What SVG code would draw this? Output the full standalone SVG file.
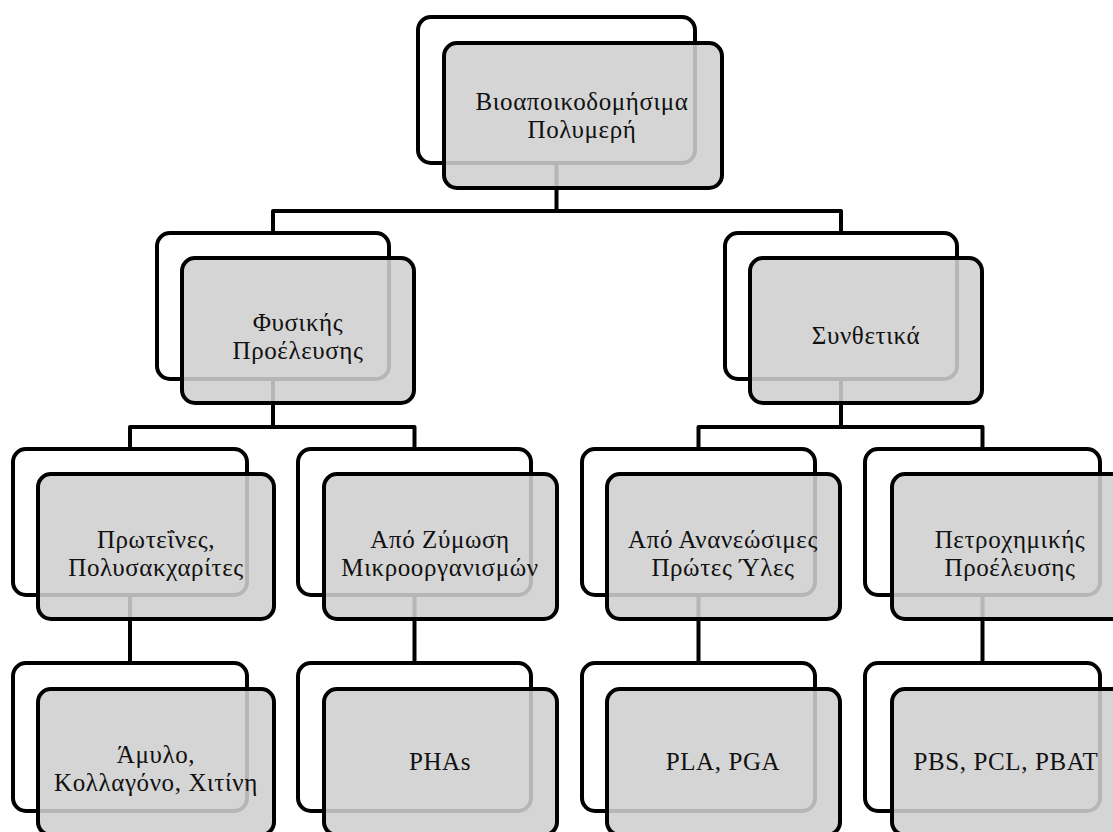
<svg xmlns="http://www.w3.org/2000/svg" width="1113" height="832" viewBox="0 0 1113 832">
<style>
.back{fill:#ffffff;stroke:#000000;stroke-width:4}
.front{fill:#cfcfcf;fill-opacity:0.88;stroke:#000000;stroke-width:4}
.conn{fill:none;stroke:#000000;stroke-width:4;stroke-linejoin:round}
text{font-family:"Liberation Serif","Times New Roman",serif;font-size:25px;letter-spacing:0.6px;fill:#111111;text-anchor:middle}
</style>
<rect width="1113" height="832" fill="#ffffff"/>
<g id="connectors">
<path class="conn" d="M556.5 163 V211 M273 233 V211 H841 V233"/>
<path class="conn" d="M273 379 V427 M130 449 V427 H414.5 V449"/>
<path class="conn" d="M841 379 V427 M698.5 449 V427 H982.5 V449"/>
<path class="conn" d="M130 595 V663 M414.5 595 V663 M698.5 595 V663 M982.5 595 V663"/>
</g>
<g id="n-root">
<rect class="back" x="418" y="17" width="277" height="146" rx="13"/>
<rect class="front" x="444" y="43" width="278" height="145" rx="13"/>
<text x="582" y="110">Βιοαποικοδομήσιμα</text>
<text x="582" y="138">Πολυμερή</text>
</g>
<g id="n-natural">
<rect class="back" x="157" y="233" width="232" height="146" rx="13"/>
<rect class="front" x="182" y="258" width="232" height="145" rx="13"/>
<text x="298" y="331">Φυσικής</text>
<text x="298" y="359">Προέλευσης</text>
</g>
<g id="n-synthetic">
<rect class="back" x="725" y="233" width="232" height="146" rx="13"/>
<rect class="front" x="750" y="258" width="232" height="145" rx="13"/>
<text x="866" y="344">Συνθετικά</text>
</g>
<g id="n-proteins">
<rect class="back" x="13" y="449" width="234" height="146" rx="13"/>
<rect class="front" x="38" y="474" width="236" height="145" rx="13"/>
<text x="156" y="548">Πρωτεΐνες,</text>
<text x="156" y="576">Πολυσακχαρίτες</text>
</g>
<g id="n-ferment">
<rect class="back" x="298" y="449" width="233" height="146" rx="13"/>
<rect class="front" x="324" y="474" width="233" height="145" rx="13"/>
<text x="440" y="548">Από Ζύμωση</text>
<text x="440" y="576">Μικροοργανισμών</text>
</g>
<g id="n-renewable">
<rect class="back" x="582" y="449" width="233" height="146" rx="13"/>
<rect class="front" x="607" y="474" width="233" height="145" rx="13"/>
<text x="723" y="548">Από Ανανεώσιμες</text>
<text x="723" y="576">Πρώτες Ύλες</text>
</g>
<g id="n-petro">
<rect class="back" x="865" y="449" width="235" height="146" rx="13"/>
<rect class="front" x="892" y="474" width="236" height="145" rx="13"/>
<text x="1010" y="548">Πετροχημικής</text>
<text x="1010" y="576">Προέλευσης</text>
</g>
<g id="n-starch">
<rect class="back" x="13" y="663" width="234" height="148" rx="13"/>
<rect class="front" x="38" y="689" width="236" height="146" rx="13"/>
<text x="156" y="763">Άμυλο,</text>
<text x="156" y="791">Κολλαγόνο, Χιτίνη</text>
</g>
<g id="n-pha">
<rect class="back" x="298" y="663" width="233" height="148" rx="13"/>
<rect class="front" x="324" y="689" width="233" height="146" rx="13"/>
<text x="440" y="770">PHAs</text>
</g>
<g id="n-pla">
<rect class="back" x="582" y="663" width="233" height="148" rx="13"/>
<rect class="front" x="607" y="689" width="233" height="146" rx="13"/>
<text x="723" y="770">PLA, PGA</text>
</g>
<g id="n-pbs">
<rect class="back" x="865" y="663" width="235" height="148" rx="13"/>
<rect class="front" x="892" y="689" width="236" height="146" rx="13"/>
<text x="1006" y="770">PBS, PCL, PBAT</text>
</g>
</svg>
